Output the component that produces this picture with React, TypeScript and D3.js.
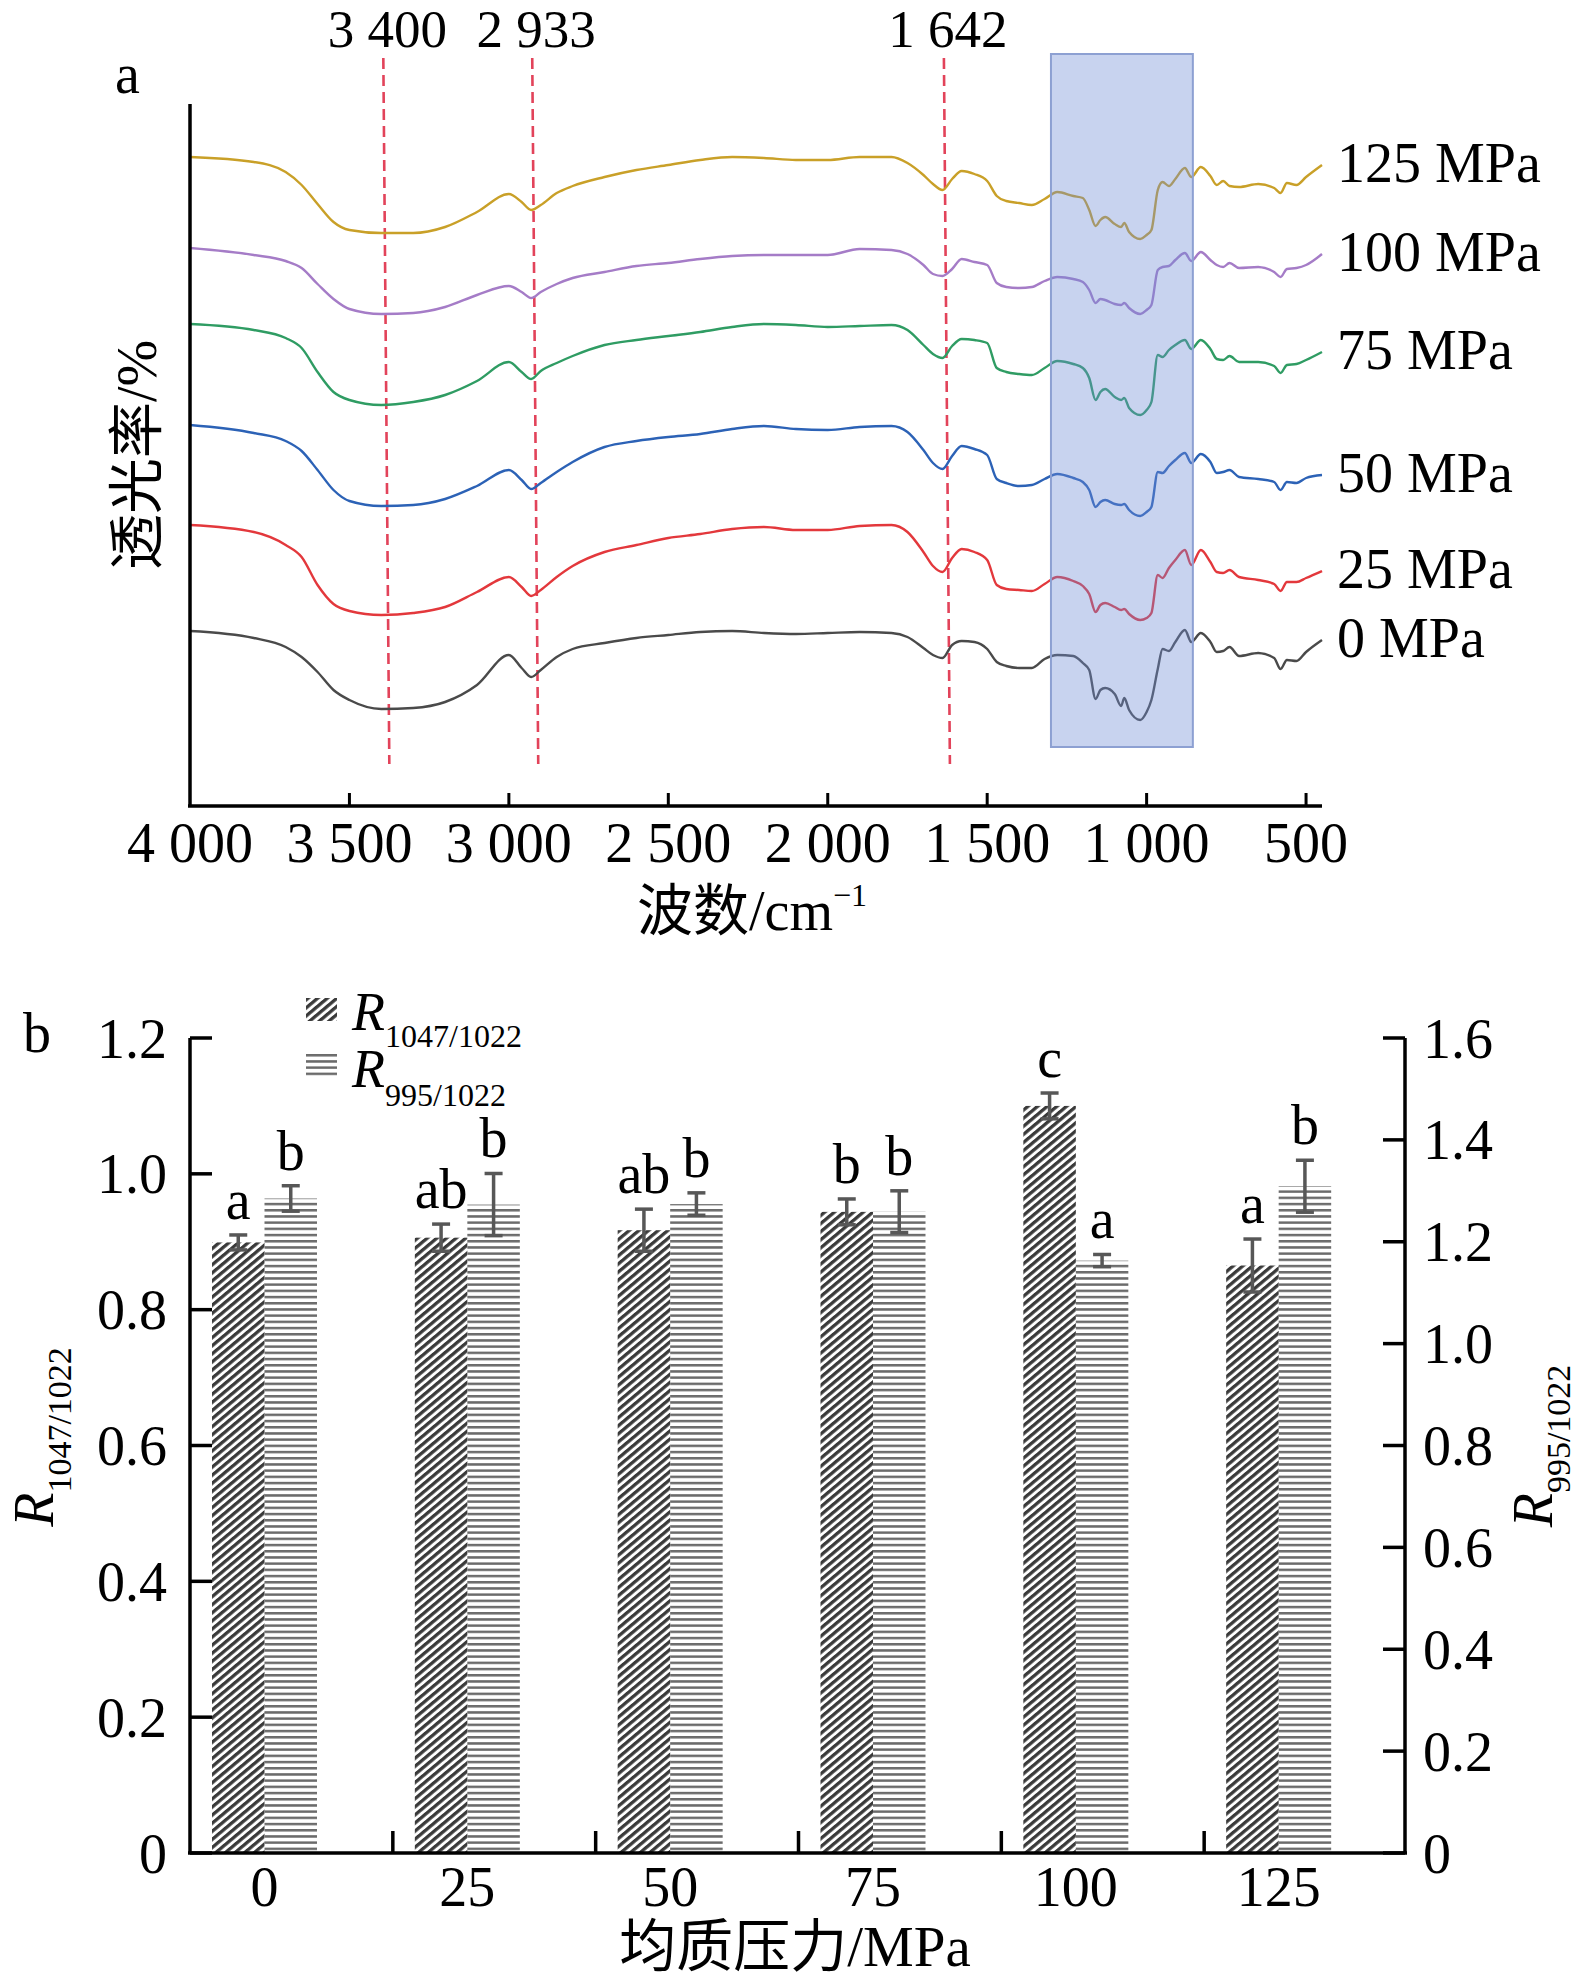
import * as d3 from "d3";

// ---- panel a: FTIR spectra (transmittance, arbitrary stacked units) ----
const wavenumbers = [
  4000, 3800, 3700, 3650, 3600, 3550, 3500, 3400, 3300, 3200,
  3100, 3000, 2960, 2930, 2900, 2850, 2800, 2700, 2600, 2500,
  2400, 2300, 2200, 2100, 2000, 1900, 1800, 1750, 1700, 1670,
  1640, 1610, 1580, 1540, 1500, 1470, 1440, 1400, 1360, 1320,
  1280, 1230, 1200, 1180, 1160, 1145, 1130, 1100, 1080, 1070,
  1055, 1020, 1000, 985, 965, 950, 930, 910, 880, 860,
  830, 800, 780, 760, 740, 710, 650, 600, 580, 560,
  530, 500, 450,
];

const t0MPa = [
  175, 168, 159, 149, 134, 116, 106, 97, 98, 104,
  121, 151, 138, 129, 136, 149, 157, 163, 168, 171,
  174, 175, 173, 172, 173, 174, 173, 169, 158, 151,
  148, 161, 165, 164, 157, 144, 140, 138, 138, 147,
  151, 150, 143, 136, 107, 116, 118, 112, 100, 108,
  96, 86, 94, 106, 137, 157, 155, 164, 176, 164,
  173, 164, 154, 155, 159, 150, 153, 148, 137, 146,
  145, 154, 166,
];
const t25MPa = [
  281, 274, 261, 249, 221, 202, 195, 191, 193, 199,
  214, 229, 219, 210, 216, 229, 240, 254, 261, 268,
  272, 277, 279, 276, 276, 280, 281, 274, 254, 240,
  234, 248, 257, 254, 246, 221, 217, 216, 215, 222,
  229, 225, 220, 212, 194, 201, 203, 199, 196, 197,
  192, 186, 188, 193, 231, 228, 238, 246, 256, 241,
  256, 244, 234, 233, 236, 229, 226, 222, 215, 224,
  224, 228, 235,
];
const t50MPa = [
  381, 373, 365, 355, 336, 316, 305, 300, 301, 307,
  320, 336, 326, 317, 323, 334, 344, 359, 365, 369,
  372, 377, 380, 377, 376, 379, 380, 374, 356, 343,
  337, 350, 360, 357, 351, 327, 323, 320, 321, 327,
  332, 328, 324, 316, 299, 304, 306, 302, 301, 302,
  296, 290, 294, 299, 334, 333, 340, 346, 353, 343,
  352, 344, 333, 334, 336, 329, 327, 324, 316, 324,
  323, 328, 331,
];
const t75MPa = [
  482, 476, 468, 458, 434, 414, 406, 401, 404, 411,
  425, 444, 434, 427, 435, 443, 450, 461, 466, 470,
  474, 479, 482, 481, 479, 480, 481, 476, 461, 452,
  448, 460, 467, 466, 463, 438, 434, 432, 431, 438,
  445, 442, 438, 428, 406, 414, 417, 409, 406, 408,
  398, 391, 396, 404, 451, 449, 456, 461, 466, 457,
  466, 457, 447, 446, 450, 444, 444, 440, 433, 441,
  442, 446, 454,
];
const t100MPa = [
  558, 551, 545, 538, 522, 507, 497, 492, 493, 499,
  511, 520, 514, 508, 514, 522, 528, 534, 540, 543,
  547, 550, 551, 551, 551, 557, 556, 552, 541, 532,
  530, 537, 547, 544, 541, 523, 519, 518, 519, 525,
  529, 527, 524, 516, 503, 507, 506, 502, 501, 503,
  498, 492, 496, 501, 536, 539, 540, 546, 553, 545,
  554, 546, 541, 539, 543, 538, 539, 534, 529, 537,
  538, 541, 552,
];
const t125MPa = [
  649, 644, 634, 621, 602, 584, 576, 573, 573, 579,
  594, 612, 604, 596, 601, 613, 620, 629, 636, 641,
  646, 649, 648, 646, 646, 649, 649, 643, 631, 622,
  616, 627, 635, 632, 625, 610, 605, 603, 601, 607,
  614, 610, 608, 596, 580, 586, 589, 582, 579, 583,
  574, 567, 571, 576, 616, 624, 620, 627, 638, 629,
  639, 630, 621, 625, 620, 619, 622, 618, 613, 623,
  621, 629, 641,
];

const spectrumNames = ["0 MPa", "25 MPa", "50 MPa", "75 MPa", "100 MPa", "125 MPa"];
const spectrumColors = ["#4a4a4a", "#e3383c", "#2c62b6", "#2f9c63", "#a57cc7", "#c9a028"];
const spectrumValues = [t0MPa, t25MPa, t50MPa, t75MPa, t100MPa, t125MPa];

const peakMarks = [3400, 2933, 1642];
const wnTicks = [4000, 3500, 3000, 2500, 2000, 1500, 1000, 500];
const shadedRange = [1300, 855];

// ---- panel b: band ratios ----
const pressures = ["0", "25", "50", "75", "100", "125"];
const r1047 = [0.899, 0.906, 0.917, 0.944, 1.1, 0.865];
const r1047Sd = [0.011, 0.02, 0.031, 0.019, 0.019, 0.039];
const r995 = [1.285, 1.273, 1.274, 1.259, 1.163, 1.309];
const r995Sd = [0.025, 0.061, 0.022, 0.041, 0.012, 0.051];
const letters1047 = ["a", "ab", "ab", "b", "c", "a"];
const letters995 = ["b", "b", "b", "b", "a", "b"];
const leftTicks = [0, 0.2, 0.4, 0.6, 0.8, 1.0, 1.2];
const rightTicks = [0, 0.2, 0.4, 0.6, 0.8, 1.0, 1.2, 1.4, 1.6];

// Latin glyphs in Liberation Serif, Chinese falls back to Noto Sans CJK
const SERIF = "'Liberation Serif', 'Times New Roman', 'Noto Sans CJK SC', serif";
const FS = 56;

const spaced = d3
  .formatLocale({ decimal: ".", thousands: " ", grouping: [3], currency: ["", ""] })
  .format(",d");
const dec = (v: number) => (v === 0 ? "0" : d3.format(".1f")(v));

export default function App() {
  const width = 1580;
  const height = 1983;

  // panel a scales
  const xA = d3.scaleLinear().domain([4000, 450]).range([190, 1322]);
  const yA = d3.scaleLinear().domain([0, 702]).range([806, 104]);
  const line = d3
    .line<number>()
    .x((_, i) => xA(wavenumbers[i]))
    .y((d) => yA(d))
    .curve(d3.curveMonotoneX);

  // panel b scales
  const xB = d3.scaleBand().domain(pressures).range([190, 1407]);
  const xSub = d3.scaleBand().domain(["r1047", "r995"]).range([22, 127]);
  const yL = d3.scaleLinear().domain([0, 1.2]).range([1853, 1038]);
  const yR = d3.scaleLinear().domain([0, 1.6]).range([1853, 1038]);
  const bw = xSub.bandwidth();
  const groupMid = (22 + 127) / 2;

  return (
    <svg
      width={width}
      height={height}
      style={{ position: "absolute", left: 0, top: 0, background: "#fff" }}
      fontFamily={SERIF}
    >
      <defs>
        <pattern id="diagHatch" patternUnits="userSpaceOnUse" width={6.2} height={20} patternTransform="rotate(50)">
          <rect x={0} y={0} width={3.3} height={20} fill="#3a3a3a" />
        </pattern>
        <pattern id="hLines" patternUnits="userSpaceOnUse" width={20} height={6.2}>
          <rect x={0} y={0} width={20} height={2.5} fill="#6b6b6b" />
        </pattern>
      </defs>

      {/* ================= panel a ================= */}
      <text x={115} y={93} fontSize={FS}>a</text>

      {peakMarks.map((w) => (
        <g key={w}>
          <line
            x1={xA(w) + 2}
            x2={xA(w) + 8}
            y1={58}
            y2={764}
            stroke="#e2435a"
            strokeWidth={2.6}
            strokeDasharray="11 6"
          />
          <text x={xA(w) + 6} y={47} fontSize={53} textAnchor="middle">
            {spaced(w)}
          </text>
        </g>
      ))}

      {spectrumValues.map((vals, k) => (
        <g key={spectrumNames[k]}>
          <path d={line(vals) ?? ""} fill="none" stroke={spectrumColors[k]} strokeWidth={2.4} strokeLinejoin="round" />
          <text x={xA(450) + 15} y={yA(vals[vals.length - 1]) + 17} fontSize={FS}>
            {spectrumNames[k]}
          </text>
        </g>
      ))}

      {/* highlighted fingerprint region */}
      <rect
        x={xA(shadedRange[0])}
        y={54}
        width={xA(shadedRange[1]) - xA(shadedRange[0])}
        height={693}
        fill="#6f8bd6"
        fillOpacity={0.38}
        stroke="#8da0d2"
        strokeWidth={2}
      />

      {/* axes */}
      <line x1={190} x2={190} y1={104} y2={806} stroke="#000" strokeWidth={3.5} />
      <line x1={188} x2={1322} y1={806} y2={806} stroke="#000" strokeWidth={3.5} />
      {wnTicks.map((t) => (
        <g key={t}>
          {t !== 4000 && <line x1={xA(t)} x2={xA(t)} y1={806} y2={793} stroke="#000" strokeWidth={3} />}
          <text x={xA(t)} y={862} fontSize={FS} textAnchor="middle">
            {spaced(t)}
          </text>
        </g>
      ))}
      <text x={752} y={930} fontSize={FS} textAnchor="middle">
        波数/cm<tspan dy={-24} fontSize={32}>−1</tspan>
      </text>
      <text transform="translate(156,455) rotate(-90)" fontSize={FS} textAnchor="middle">
        透光率/%
      </text>

      {/* ================= panel b ================= */}
      <text x={23} y={1052} fontSize={FS}>b</text>

      {/* legend */}
      <rect x={306} y={998} width={31} height={23} fill="url(#diagHatch)" />
      <text x={352} y={1030} fontSize={54}>
        <tspan fontStyle="italic">R</tspan>
        <tspan dy={17} fontSize={32}>1047/1022</tspan>
      </text>
      <rect x={306} y={1053} width={31} height={25} fill="url(#hLines)" />
      <text x={352} y={1087} fontSize={54}>
        <tspan fontStyle="italic">R</tspan>
        <tspan dy={19} fontSize={32}>995/1022</tspan>
      </text>

      {pressures.map((p, i) => {
        const x0 = (xB(p) ?? 0) + (xSub("r1047") ?? 0);
        const x1 = (xB(p) ?? 0) + (xSub("r995") ?? 0);
        const hiL = yL(r1047[i] + r1047Sd[i]);
        const loL = yL(r1047[i] - r1047Sd[i]);
        const hiR = yR(r995[i] + r995Sd[i]);
        const loR = yR(r995[i] - r995Sd[i]);
        return (
          <g key={p}>
            <rect x={x0} y={yL(r1047[i])} width={bw} height={yL(0) - yL(r1047[i])} fill="url(#diagHatch)" />
            <rect x={x1} y={yR(r995[i])} width={bw} height={yR(0) - yR(r995[i])} fill="url(#hLines)" />
            <g stroke="#575757" strokeWidth={3.5}>
              <line x1={x0 + bw / 2} x2={x0 + bw / 2} y1={hiL} y2={loL} />
              <line x1={x0 + bw / 2 - 9} x2={x0 + bw / 2 + 9} y1={hiL} y2={hiL} />
              <line x1={x0 + bw / 2 - 9} x2={x0 + bw / 2 + 9} y1={loL} y2={loL} />
              <line x1={x1 + bw / 2} x2={x1 + bw / 2} y1={hiR} y2={loR} />
              <line x1={x1 + bw / 2 - 9} x2={x1 + bw / 2 + 9} y1={hiR} y2={hiR} />
              <line x1={x1 + bw / 2 - 9} x2={x1 + bw / 2 + 9} y1={loR} y2={loR} />
            </g>
            <text x={x0 + bw / 2} y={hiL - 16} fontSize={FS} textAnchor="middle">
              {letters1047[i]}
            </text>
            <text x={x1 + bw / 2} y={hiR - 16} fontSize={FS} textAnchor="middle">
              {letters995[i]}
            </text>
            <text x={(xB(p) ?? 0) + groupMid} y={1906} fontSize={FS} textAnchor="middle">
              {p}
            </text>
            {i > 0 && <line x1={xB(p)} x2={xB(p)} y1={1853} y2={1831} stroke="#000" strokeWidth={3.5} />}
          </g>
        );
      })}

      {/* axes */}
      <line x1={190} x2={190} y1={1038} y2={1853} stroke="#000" strokeWidth={3.5} />
      <line x1={1405} x2={1405} y1={1038} y2={1853} stroke="#000" strokeWidth={3.5} />
      <line x1={188} x2={1407} y1={1853} y2={1853} stroke="#000" strokeWidth={3.5} />
      {leftTicks.map((t) => (
        <g key={"l" + t}>
          <line x1={190} x2={212} y1={yL(t)} y2={yL(t)} stroke="#000" strokeWidth={3.5} />
          <text x={167} y={yL(t)} dy="0.35em" fontSize={FS} textAnchor="end">
            {dec(t)}
          </text>
        </g>
      ))}
      {rightTicks.map((t) => (
        <g key={"r" + t}>
          <line x1={1383} x2={1405} y1={yR(t)} y2={yR(t)} stroke="#000" strokeWidth={3.5} />
          <text x={1423} y={yR(t)} dy="0.35em" fontSize={FS}>
            {dec(t)}
          </text>
        </g>
      ))}

      <text transform="translate(53,1437) rotate(-90)" fontSize={FS} textAnchor="middle">
        <tspan fontStyle="italic">R</tspan>
        <tspan dy={18} fontSize={34}>1047/1022</tspan>
      </text>
      <text transform="translate(1552,1446) rotate(-90)" fontSize={FS} textAnchor="middle">
        <tspan fontStyle="italic">R</tspan>
        <tspan dy={18} fontSize={34}>995/1022</tspan>
      </text>
      <text x={795} y={1966} fontSize={57} textAnchor="middle">
        均质压力/MPa
      </text>
    </svg>
  );
}
